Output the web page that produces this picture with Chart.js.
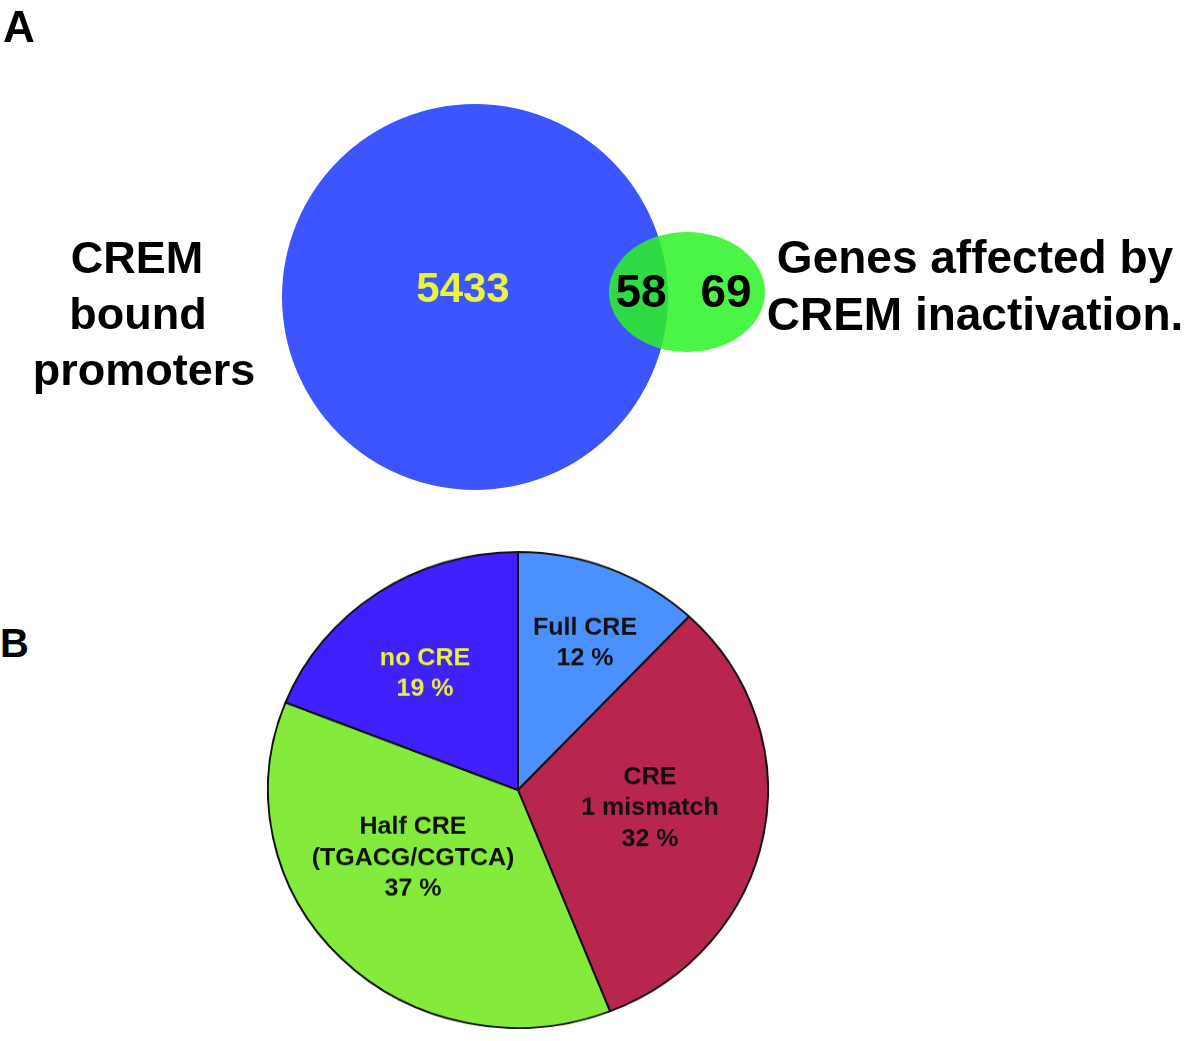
<!DOCTYPE html>
<html>
<head>
<meta charset="utf-8">
<script src="https://cdn.jsdelivr.net/npm/chart.js@4.4.1/dist/chart.umd.min.js"></script>
<style>
  html, body { margin: 0; padding: 0; background: #fff; }
  body { width: 1200px; height: 1041px; position: relative; overflow: hidden;
         font-family: "Liberation Sans", Arial, sans-serif; font-weight: bold; color: #000; }
  .t { position: absolute; white-space: nowrap; line-height: 1; text-align: center; }
  #venn { position: absolute; left: 0; top: 0; }
  #pieWrap { position: absolute; left: 267px; top: 539px; width: 502px; height: 502px;
             transform: scaleY(0.952); transform-origin: 50% 50%; }
</style>
</head>
<body>
<canvas id="venn" width="1200" height="520"></canvas>
<div id="pieWrap"><canvas id="pie" width="502" height="502"></canvas></div>

<div class="t" style="left:3px;top:5px;font-size:44px;text-align:left;">A</div>
<div class="t" style="left:0px;top:623px;font-size:40px;text-align:left;">B</div>

<div class="t" style="left:-13px;top:235px;width:300px;font-size:45px;">CREM</div>
<div class="t" style="left:-12px;top:291px;width:300px;font-size:45px;">bound</div>
<div class="t" style="left:-6px;top:347px;width:300px;font-size:45px;">promoters</div>

<div class="t" style="left:725px;top:234px;width:500px;font-size:46px;">Genes affected by</div>
<div class="t" style="left:725px;top:291px;width:500px;font-size:46px;">CREM inactivation.</div>

<script>
// ---------------- DATA ----------------
// Panel A: Venn diagram region counts
const vennRegions = ['CREM bound promoters only', 'Both', 'Genes affected by CREM inactivation only'];
const vennCounts = [5433, 58, 69];

// Panel B: CRE content of the overlapping genes (percent)
const pieLabels = [['Full CRE'], ['CRE', '1 mismatch'], ['Half CRE', '(TGACG/CGTCA)'], ['no CRE']];
const pieValues = [12, 32, 37, 19];

// ---------------- STYLE / LAYOUT ----------------
const vennGeom = {
  setA: { x: 475, y: 297, r: 193, color: 'rgb(61,85,255)' },
  setB: { x: 687, y: 292, rx: 78, ry: 60, color: 'rgba(43,243,36,0.85)' }
};
const vennTextPos = [
  { x: 463, y: 302, size: 42, color: 'rgb(232,245,60)' },
  { x: 641, y: 307, size: 46, color: '#000' },
  { x: 726, y: 307, size: 46, color: '#000' }
];
const pieColors = ['rgb(74,145,255)', 'rgb(184,37,77)', 'rgb(132,235,60)', 'rgb(64,32,255)'];
const pieTextColors = ['#111', '#111', '#111', 'rgb(235,240,60)'];
const pieTextOffset = [[67, -149], [132, 16], [-105, 66], [-93, -118.5]]; // page px from pie centre
const pieScaleY = 0.952;

// ellipse point style for the second set
function ellipseStyle(g) {
  const c = document.createElement('canvas');
  c.width = g.rx * 2 + 2; c.height = g.ry * 2 + 2;
  const x = c.getContext('2d');
  x.fillStyle = g.color;
  x.beginPath();
  x.ellipse(c.width / 2, c.height / 2, g.rx, g.ry, 0, 0, Math.PI * 2);
  x.fill();
  return c;
}

const vennLabelPlugin = {
  id: 'vennLabels',
  afterDatasetsDraw(chart) {
    const ctx = chart.ctx, xs = chart.scales.x, ys = chart.scales.y;
    ctx.save();
    ctx.textAlign = 'center';
    ctx.textBaseline = 'alphabetic';
    vennCounts.forEach((v, i) => {
      const p = vennTextPos[i];
      ctx.font = 'bold ' + p.size + 'px "Liberation Sans", Arial, sans-serif';
      ctx.fillStyle = p.color;
      ctx.fillText(String(v), xs.getPixelForValue(p.x), ys.getPixelForValue(p.y));
    });
    ctx.restore();
  }
};

new Chart(document.getElementById('venn'), {
  type: 'bubble',
  data: {
    datasets: [
      { label: 'Genes affected by CREM inactivation',
        data: [{ x: vennGeom.setB.x, y: vennGeom.setB.y, r: vennGeom.setB.rx }],
        pointStyle: ellipseStyle(vennGeom.setB), borderWidth: 0, hoverRadius: 0, clip: false },
      { label: 'CREM bound promoters',
        data: [{ x: vennGeom.setA.x, y: vennGeom.setA.y, r: vennGeom.setA.r }],
        backgroundColor: vennGeom.setA.color, borderWidth: 0, hoverRadius: 0, clip: false }
    ]
  },
  options: {
    responsive: false, animation: false, events: [],
    layout: { padding: 0, autoPadding: false },
    scales: {
      x: { type: 'linear', min: 0, max: 1200, display: false },
      y: { type: 'linear', min: 0, max: 520, reverse: true, display: false }
    },
    plugins: { legend: { display: false }, tooltip: { enabled: false } }
  },
  plugins: [vennLabelPlugin]
});

const pieLabelPlugin = {
  id: 'pieLabels',
  afterDatasetsDraw(chart) {
    const ctx = chart.ctx;
    const arcs = chart.getDatasetMeta(0).data;
    const size = 25, lh = 31;
    ctx.save();
    ctx.textAlign = 'center';
    ctx.textBaseline = 'alphabetic';
    ctx.font = 'bold ' + size + 'px "Liberation Sans", Arial, sans-serif';
    arcs.forEach((arc, i) => {
      const lines = pieLabels[i].concat([pieValues[i] + ' %']);
      const off = pieTextOffset[i];
      ctx.save();
      ctx.translate(arc.x + off[0], arc.y + off[1] / pieScaleY);
      ctx.scale(1, 1 / pieScaleY);
      ctx.fillStyle = pieTextColors[i];
      lines.forEach((ln, j) => {
        const cy = (j - (lines.length - 1) / 2) * lh;
        ctx.fillText(ln, 0, cy + 0.358 * size);
      });
      ctx.restore();
    });
    ctx.restore();
  }
};

new Chart(document.getElementById('pie'), {
  type: 'pie',
  data: {
    labels: pieLabels,
    datasets: [{
      data: pieValues,
      backgroundColor: pieColors,
      borderColor: '#111',
      borderWidth: 2,
      hoverOffset: 0,
      borderAlign: 'center'
    }]
  },
  options: {
    responsive: false, animation: false, events: [],
    layout: { padding: 0 },
    plugins: { legend: { display: false }, tooltip: { enabled: false } }
  },
  plugins: [pieLabelPlugin]
});
</script>
</body>
</html>
